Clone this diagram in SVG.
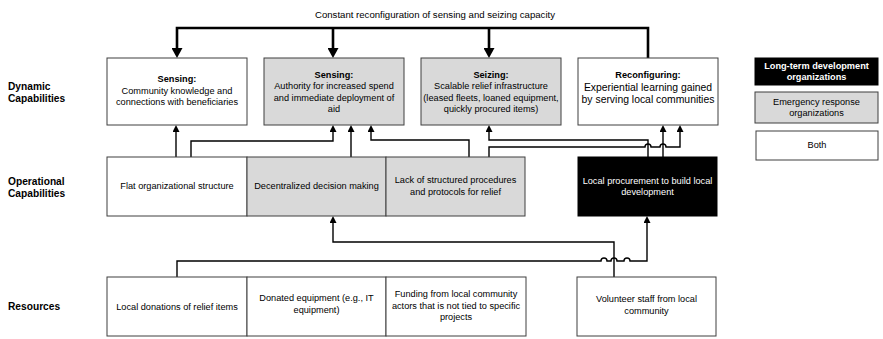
<svg xmlns="http://www.w3.org/2000/svg" width="883" height="339" viewBox="0 0 883 339">
<defs>
<style>
text{font-family:"Liberation Sans",Arial,sans-serif;font-size:9.2px;fill:#000;text-anchor:middle}
.lab{font-weight:bold;font-size:10.2px;text-anchor:start}
.b{font-weight:bold}
.w{fill:#fff}
.box{stroke:#3f3f3f;stroke-width:1;fill:#fff}
.gray{fill:#d9d9d9}
.blk{fill:#000;stroke:#000}
.thick{fill:none;stroke:#000;stroke-width:2.6}
.thin{fill:none;stroke:#000;stroke-width:1.4}
</style>
<marker id="big" markerUnits="userSpaceOnUse" viewBox="0 0 10 11" refX="4" refY="5.5" markerWidth="10" markerHeight="11" orient="auto">
<path d="M0,0 L10,5.5 L0,11 z" fill="#000"/>
</marker>
<marker id="sm" markerUnits="userSpaceOnUse" viewBox="0 0 7 7" refX="2.5" refY="3.5" markerWidth="7" markerHeight="7" orient="auto">
<path d="M0,0 L7,3.5 L0,7 z" fill="#000"/>
</marker>
</defs>

<text x="435" y="18" style="font-size:9.6px">Constant reconfiguration of sensing and seizing capacity</text>

<g id="labels">
<text class="lab" x="8" y="90">Dynamic</text>
<text class="lab" x="8" y="102">Capabilities</text>
<text class="lab" x="8" y="185">Operational</text>
<text class="lab" x="8" y="197">Capabilities</text>
<text class="lab" x="8" y="310">Resources</text>
</g>

<g id="connectors">
<path class="thick" d="M648,58 V28 H177 V52" marker-end="url(#big)"/>
<path class="thick" d="M333,28 V52" marker-end="url(#big)"/>
<path class="thick" d="M489,28 V52" marker-end="url(#big)"/>
<path class="thin" d="M176,157 V129.5" marker-end="url(#sm)"/>
<path class="thin" d="M191,157 V141 H333 V129.5" marker-end="url(#sm)"/>
<path class="thin" d="M351,157 V129.5" marker-end="url(#sm)"/>
<path class="thin" d="M469,157 V140 H371 V129.5" marker-end="url(#sm)"/>
<path class="thin" d="M648,157 V140 H489 V129.5" marker-end="url(#sm)"/>
<path class="thin" d="M489,157 V147 H645 A3,3 0 0 1 651,147 H660 A3,3 0 0 1 666,147 H680 V129.5" marker-end="url(#sm)"/>
<path class="thin" d="M663,157 V129.5" marker-end="url(#sm)"/>
<path class="thin" d="M614,277 V242 H333 V220.5" marker-end="url(#sm)"/>
<path class="thin" d="M177,277 V261 H601 A3,3 0 0 1 607,261 H611 A3,3 0 0 1 617,261 H624 A3,3 0 0 1 630,261 H647 V220.5" marker-end="url(#sm)"/>
</g>

<g id="d1">
<rect class="box" x="107" y="58" width="140" height="67"/>
<text class="b" x="177" y="82">Sensing:</text>
<text x="177" y="94">Community knowledge and</text>
<text x="177" y="105">connections with beneficiaries</text>
</g>
<g id="d2">
<rect class="box gray" x="264" y="58" width="140" height="67"/>
<text class="b" x="334" y="78">Sensing:</text>
<text x="334" y="89">Authority for increased spend</text>
<text x="334" y="101">and immediate deployment of</text>
<text x="334" y="112">aid</text>
</g>
<g id="d3">
<rect class="box gray" x="421" y="58" width="140" height="67"/>
<text class="b" x="491" y="78">Seizing:</text>
<text x="491" y="89">Scalable relief infrastructure</text>
<text x="491" y="101">(leased fleets, loaned equipment,</text>
<text x="491" y="112">quickly procured items)</text>
</g>
<g id="d4">
<rect class="box" x="578" y="58" width="140" height="67"/>
<text class="b" x="648" y="78">Reconfiguring:</text>
<text x="648" y="91" style="font-size:10.4px">Experiential learning gained</text>
<text x="648" y="103" style="font-size:10.4px">by serving local communities</text>
</g>

<g id="o1">
<rect class="box" x="107" y="157" width="140" height="59"/>
<text x="177" y="189">Flat organizational structure</text>
</g>
<g id="o2">
<rect class="box gray" x="247" y="157" width="139" height="59"/>
<text x="316.5" y="189">Decentralized decision making</text>
</g>
<g id="o3">
<rect class="box gray" x="386" y="157" width="139" height="59"/>
<text x="455.5" y="183">Lack of structured procedures</text>
<text x="455.5" y="195">and protocols for relief</text>
</g>
<g id="o4">
<rect class="box blk" x="578" y="157" width="139" height="59"/>
<text class="w" x="647.5" y="184">Local procurement to build local</text>
<text class="w" x="647.5" y="195">development</text>
</g>

<g id="r1">
<rect class="box" x="107" y="277" width="140" height="59"/>
<text x="177" y="310">Local donations of relief items</text>
</g>
<g id="r2">
<rect class="box" x="247" y="277" width="139" height="59"/>
<text x="316.5" y="301">Donated equipment (e.g., IT</text>
<text x="316.5" y="313">equipment)</text>
</g>
<g id="r3">
<rect class="box" x="386" y="277" width="140" height="59"/>
<text x="456" y="297">Funding from local community</text>
<text x="456" y="309">actors that is not tied to specific</text>
<text x="456" y="320">projects</text>
</g>
<g id="r4">
<rect class="box" x="577" y="277" width="139" height="59"/>
<text x="646.5" y="302">Volunteer staff from local</text>
<text x="646.5" y="314">community</text>
</g>

<g id="legend-long-term">
<rect class="box blk" x="755" y="58" width="123" height="27"/>
<text class="b w" x="816.5" y="69">Long-term development</text>
<text class="b w" x="816.5" y="80">organizations</text>
</g>
<g id="legend-emergency">
<rect class="box gray" x="755" y="92" width="123" height="31"/>
<text x="816.5" y="105">Emergency response</text>
<text x="816.5" y="116">organizations</text>
</g>
<g id="legend-both">
<rect class="box" x="756" y="131" width="122" height="29"/>
<text x="817" y="148">Both</text>
</g>
</svg>
